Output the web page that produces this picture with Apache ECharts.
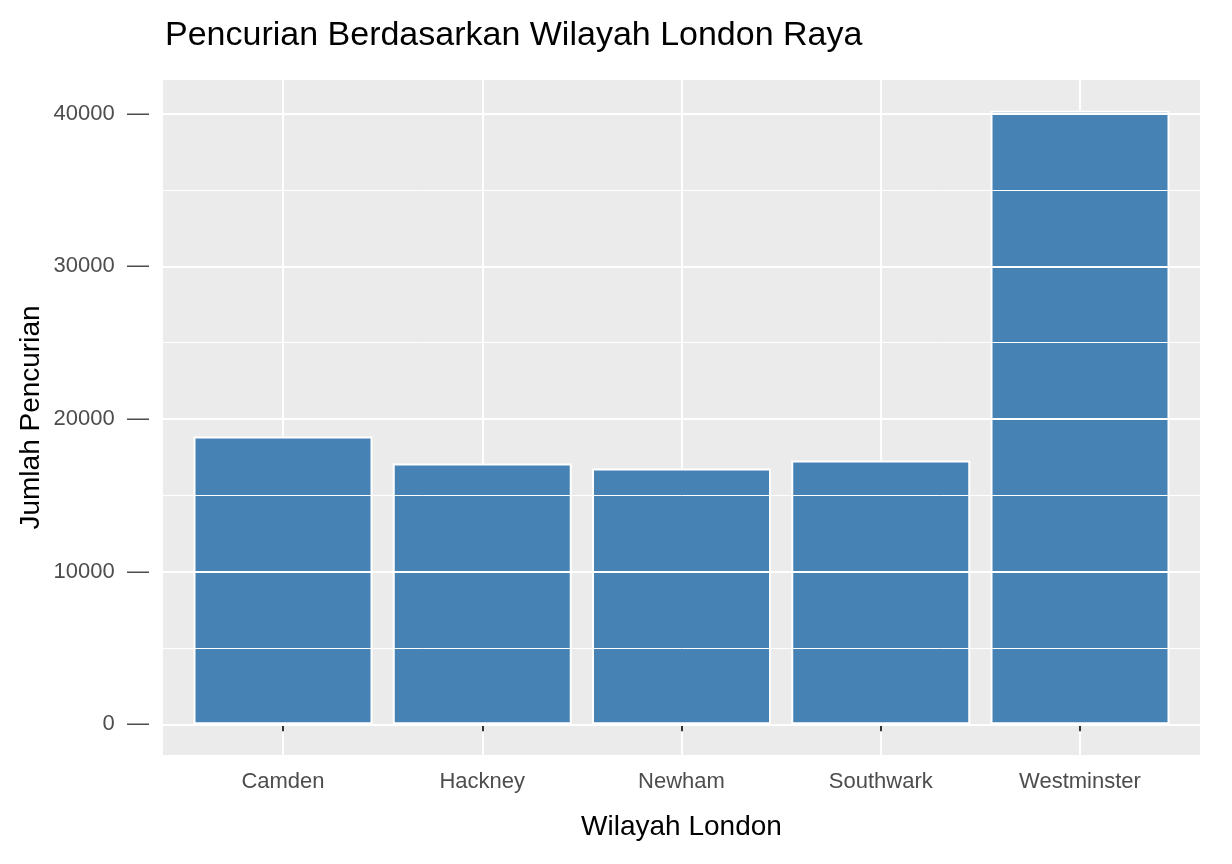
<!DOCTYPE html>
<html><head><meta charset="utf-8">
<script src="https://cdn.jsdelivr.net/npm/echarts@6/dist/echarts.min.js"></script>
<style>html,body{margin:0;padding:0;background:#fff}#c{width:1232px;height:864px}</style>
</head><body><div id="c"></div>
<script>
const categories = ['Camden','Hackney','Newham','Southwark','Westminster'];
const values = [18850, 17090, 16760, 17280, 40200];
const majorTicks = [0, 10000, 20000, 30000, 40000];
const minorTicks = [5000, 15000, 25000, 35000];
const yMin = -2010, yMax = 42210;

const font = 'Liberation Sans, Arial, sans-serif';
const chart = echarts.init(document.getElementById('c'));
const gTop = 80, gBottom = 864 - 755;
chart.setOption({
  animation: false,
  title: { text: 'Pencurian Berdasarkan Wilayah London Raya', left: 160, top: 14,
    textStyle: { fontSize: 34, fontWeight: 'normal', color: '#000', fontFamily: font } },
  grid: [
    { left: 163, width: 1037, top: gTop, bottom: gBottom, show: true, backgroundColor: '#EBEBEB', borderWidth: 0 },
    { left: 283, width: 797, top: gTop, bottom: gBottom }
  ],
  xAxis: [
    { gridIndex: 0, type: 'value', min: 0, max: 1, show: false },
    { gridIndex: 1, type: 'category', data: categories, boundaryGap: false,
      axisLine: { show: false },
      axisTick: { show: true, length: 7, lineStyle: { color: '#333', width: 2 } },
      axisLabel: { color: '#4D4D4D', fontSize: 22, margin: 16, fontFamily: font },
      splitLine: { show: true, lineStyle: { color: '#fff', width: 2 } },
      name: 'Wilayah London', nameLocation: 'middle', nameGap: 58,
      nameTextStyle: { fontSize: 28, color: '#000', fontFamily: font } }
  ],
  yAxis: [
    { gridIndex: 0, type: 'value', min: yMin, max: yMax, axisLine: { show: false }, axisTick: { show: false },
      axisLabel: { show: false }, splitLine: { show: false },
      name: 'Jumlah Pencurian', nameLocation: 'middle', nameGap: 118,
      nameTextStyle: { fontSize: 28, color: '#000', fontFamily: font } },
    { gridIndex: 1, type: 'value', min: yMin, max: yMax, show: false, splitLine: { show: false } }
  ],
  series: [
    { type: 'line', xAxisIndex: 0, yAxisIndex: 0, data: [[0, yMin]], showSymbol: false, silent: true,
      markLine: { silent: true, symbol: 'none', animation: false,
        data: majorTicks.map(v => ({ yAxis: v, lineStyle: { color: '#fff', width: 2, type: 'solid' },
          label: { show: true, position: 'start', distance: 14, formatter: String(v) + '  \u2014', color: '#4D4D4D', fontSize: 22, fontFamily: font } }))
          .concat(minorTicks.map(v => ({ yAxis: v, lineStyle: { color: '#fff', width: 1, type: 'solid' }, label: { show: false } }))) } },
    { type: 'bar', xAxisIndex: 1, yAxisIndex: 1, data: values, barWidth: 179, clip: false,
      itemStyle: { color: '#4682B4', borderColor: '#fff', borderWidth: 2 } }
  ]
});
</script></body></html>
